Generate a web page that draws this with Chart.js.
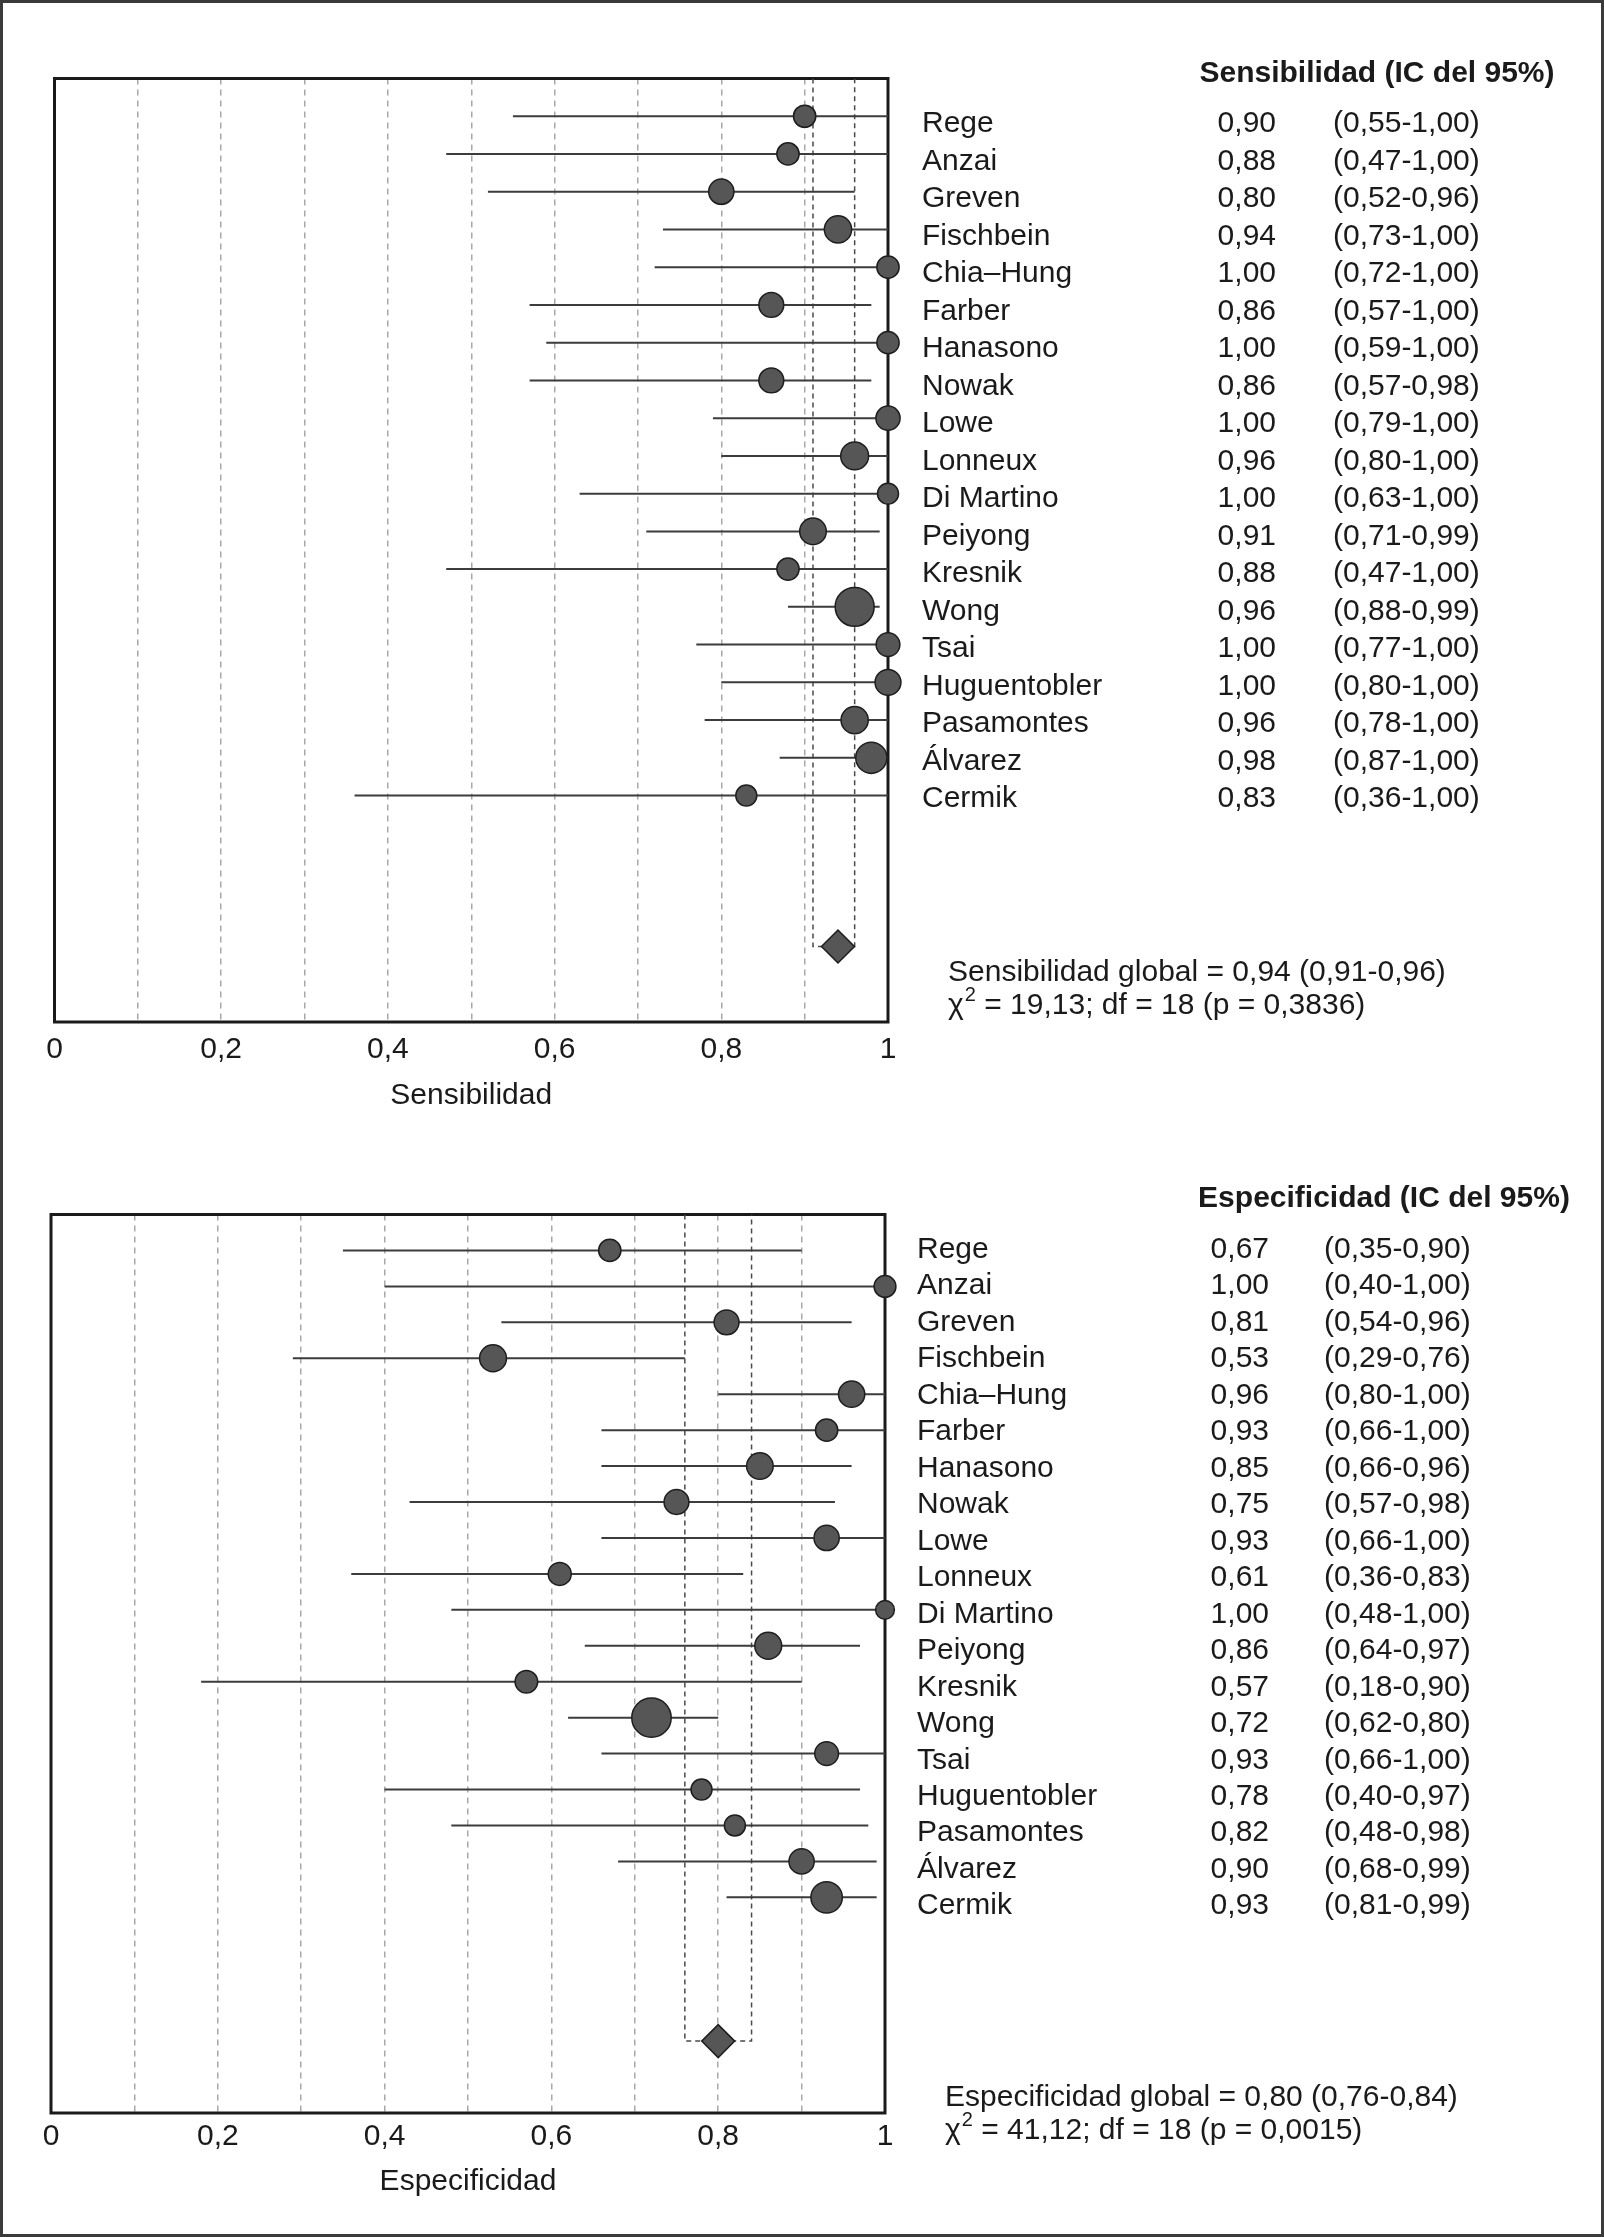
<!DOCTYPE html>
<html>
<head>
<meta charset="utf-8">
<script src="https://cdn.jsdelivr.net/npm/chart.js@4.4.0/dist/chart.umd.min.js"></script>
<style>
    html, body { margin: 0; padding: 0; background: #ffffff; }
    #frame { position: absolute; left: 0; top: 0; width: 1604px; height: 2237px; box-sizing: border-box; border: 3px solid #3a3a3a; }
    #sens_chart { position: absolute; left: 0; top: 0; }
    #spec_chart { position: absolute; left: 0; top: 1130px; }
</style>
</head>
<body>
<div id="frame"></div>
<canvas id="sens_chart" width="1604" height="1130"></canvas>
<canvas id="spec_chart" width="1604" height="1107"></canvas>
<script>
const studies = ["Rege", "Anzai", "Greven", "Fischbein", "Chia\u2013Hung", "Farber", "Hanasono", "Nowak", "Lowe", "Lonneux",
    "Di Martino", "Peiyong", "Kresnik", "Wong", "Tsai", "Huguentobler", "Pasamontes", "\u00c1lvarez", "Cermik"];

// sensitivity, as plotted
const sens_values = [0.90, 0.88, 0.80, 0.94, 1.00, 0.86, 1.00, 0.86, 1.00, 0.96, 1.00, 0.91, 0.88, 0.96, 1.00, 1.00, 0.96, 0.98, 0.83];
const sens_lower = [0.55, 0.47, 0.52, 0.73, 0.72, 0.57, 0.59, 0.57, 0.79, 0.80, 0.63, 0.71, 0.47, 0.88, 0.77, 0.80, 0.78, 0.87, 0.36];
const sens_upper = [1.00, 1.00, 0.96, 1.00, 1.00, 0.98, 1.00, 0.98, 1.00, 1.00, 1.00, 0.99, 1.00, 0.99, 1.00, 1.00, 1.00, 1.00, 1.00];
const sens_weights = [28, 28, 36, 42, 28, 35, 28, 35, 33, 44, 25, 40, 28, 86, 32, 38, 42, 55, 25];
const sens_pooled = [0.94, 0.91, 0.96];

// sensitivity, as printed in the table
const sens_value_labels = ["0,90", "0,88", "0,80", "0,94", "1,00", "0,86", "1,00", "0,86", "1,00", "0,96",
    "1,00", "0,91", "0,88", "0,96", "1,00", "1,00", "0,96", "0,98", "0,83"];
const sens_ci_labels = ["(0,55-1,00)", "(0,47-1,00)", "(0,52-0,96)", "(0,73-1,00)", "(0,72-1,00)", "(0,57-1,00)", "(0,59-1,00)",
    "(0,57-0,98)", "(0,79-1,00)", "(0,80-1,00)", "(0,63-1,00)", "(0,71-0,99)", "(0,47-1,00)", "(0,88-0,99)", "(0,77-1,00)",
    "(0,80-1,00)", "(0,78-1,00)", "(0,87-1,00)", "(0,36-1,00)"];

// specificity, as plotted
const spec_values = [0.67, 1.00, 0.81, 0.53, 0.96, 0.93, 0.85, 0.75, 0.93, 0.61, 1.00, 0.86, 0.57, 0.72, 0.93, 0.78, 0.82, 0.90, 0.93];
const spec_lower = [0.35, 0.40, 0.54, 0.29, 0.80, 0.66, 0.66, 0.43, 0.66, 0.36, 0.48, 0.64, 0.18, 0.62, 0.66, 0.40, 0.48, 0.68, 0.81];
const spec_upper = [0.90, 1.00, 0.96, 0.76, 1.00, 1.00, 0.96, 0.94, 1.00, 0.83, 1.00, 0.97, 0.90, 0.80, 1.00, 0.97, 0.98, 0.99, 0.99];
const spec_weights = [28, 27, 35, 41, 39, 28, 40, 35, 36, 30, 20, 41, 29, 88, 32, 25, 25, 36, 56];
const spec_pooled = [0.80, 0.76, 0.84];

// specificity, as printed in the table
const spec_value_labels = ["0,67", "1,00", "0,81", "0,53", "0,96", "0,93", "0,85", "0,75", "0,93", "0,61",
    "1,00", "0,86", "0,57", "0,72", "0,93", "0,78", "0,82", "0,90", "0,93"];
const spec_ci_labels = ["(0,35-0,90)", "(0,40-1,00)", "(0,54-0,96)", "(0,29-0,76)", "(0,80-1,00)", "(0,66-1,00)", "(0,66-0,96)",
    "(0,57-0,98)", "(0,66-1,00)", "(0,36-0,83)", "(0,48-1,00)", "(0,64-0,97)", "(0,18-0,90)", "(0,62-0,80)", "(0,66-1,00)",
    "(0,40-0,97)", "(0,48-0,98)", "(0,68-0,99)", "(0,81-0,99)"];

const pooled_row = 22;

const font_family = "'Liberation Sans', Arial, Helvetica, sans-serif";
const text_color = "#1a1a1a";

function tick_label(value)
{
    const tenths = Math.round(value * 10);
    if (tenths % 2 !== 0) return "";
    return String(tenths / 10).replace(".", ",");
}

function draw_chi_line(ctx, x, y, chi, rest)
{
    ctx.font = "30px " + font_family;
    ctx.fillText(chi, x, y);
    let w = ctx.measureText(chi).width;
    ctx.font = "20px " + font_family;
    ctx.fillText("2", x + w + 1, y - 13);
    w += ctx.measureText("2").width + 1;
    ctx.font = "30px " + font_family;
    ctx.fillText(rest, x + w, y);
}

function make_text_plugin(cfg)
{
    return {
        id: "forest_text",
        beforeDatasetsDraw(chart)
        {
            const a = chart.chartArea;
            const ctx = chart.ctx;
            ctx.save();
            ctx.lineWidth = 3;
            ctx.strokeStyle = "#1a1a1a";
            ctx.strokeRect(a.left, a.top, a.right - a.left, a.bottom - a.top);
            ctx.restore();
        },
        afterDraw(chart)
        {
            const ctx = chart.ctx;
            const y_scale = chart.scales.y;
            ctx.save();
            ctx.fillStyle = text_color;
            ctx.textBaseline = "alphabetic";

            ctx.font = "bold 30px " + font_family;
            ctx.textAlign = "center";
            ctx.fillText(cfg.header, cfg.header_x, cfg.header_y);

            ctx.font = "30px " + font_family;
            for (let i = 0; i < studies.length; i++)
            {
                const y = y_scale.getPixelForValue(i) + cfg.text_offset + i * cfg.text_extra;
                ctx.textAlign = "left";
                ctx.fillText(studies[i], cfg.name_x, y);
                ctx.textAlign = "right";
                ctx.fillText(cfg.value_labels[i], cfg.value_x, y);
                ctx.textAlign = "left";
                ctx.fillText(cfg.ci_labels[i], cfg.ci_x, y);
            }

            ctx.textAlign = "left";
            ctx.fillText(cfg.global_text, cfg.global_x, cfg.global_y);
            draw_chi_line(ctx, cfg.global_x, cfg.global_y + 33, "\u03c7", cfg.chi_text);
            ctx.restore();
        }
    };
}

function make_forest(canvas_id, values, lower, upper, weights, pooled, axis_title, layout, text_cfg)
{
    const points = values.map((v, i) => ({ x: v, y: i }));
    const radii = weights.map(w => 2.1 * Math.sqrt(w));
    const ci_segments = [];
    for (let i = 0; i < values.length; i++)
    {
        ci_segments.push({ x: lower[i], y: i }, { x: upper[i], y: i }, { x: null, y: null });
    }
    const pooled_ci = [
        { x: pooled[1], y: -1 }, { x: pooled[1], y: pooled_row },
        { x: pooled[2], y: pooled_row }, { x: pooled[2], y: -1 }
    ];

    return new Chart(canvas_id,
    {
        type: "scatter",
        data:
        {
            datasets:
            [
                {
                    label: "studies",
                    data: points,
                    pointStyle: "circle",
                    pointRadius: radii,
                    pointHoverRadius: radii,
                    backgroundColor: "#565656",
                    borderColor: "#1e1e1e",
                    pointBorderWidth: 1.5,
                    clip: false,
                    order: 1
                },
                {
                    label: "pooled",
                    data: [{ x: pooled[0], y: pooled_row }],
                    pointStyle: "rectRot",
                    pointRadius: 16.5,
                    pointHoverRadius: 16.5,
                    backgroundColor: "#565656",
                    borderColor: "#1e1e1e",
                    pointBorderWidth: 1.5,
                    order: 2
                },
                {
                    label: "ci",
                    data: ci_segments,
                    showLine: true,
                    spanGaps: false,
                    borderColor: "#3c3c3c",
                    borderWidth: 2,
                    pointRadius: 0,
                    pointHoverRadius: 0,
                    order: 3
                },
                {
                    label: "pooled ci",
                    data: pooled_ci,
                    showLine: true,
                    borderColor: "#4a4a4a",
                    borderWidth: 1.5,
                    borderDash: [5, 4],
                    pointRadius: 0,
                    pointHoverRadius: 0,
                    order: 4
                }
            ]
        },
        options:
        {
            responsive: false,
            animation: false,
            events: [],
            layout:
            {
                padding: layout.padding
            },
            plugins:
            {
                legend: { display: false },
                tooltip: { enabled: false }
            },
            scales:
            {
                x:
                {
                    type: "linear",
                    position: "bottom",
                    min: 0,
                    max: 1,
                    ticks:
                    {
                        stepSize: 0.1,
                        autoSkip: false,
                        maxRotation: 0,
                        padding: layout.tick_padding,
                        color: text_color,
                        font: { family: font_family, size: 30 },
                        callback: tick_label
                    },
                    grid:
                    {
                        color: "#a8a8a8",
                        lineWidth: 1.5,
                        drawTicks: false
                    },
                    border:
                    {
                        display: false,
                        dash: [6, 5]
                    },
                    title:
                    {
                        display: true,
                        text: axis_title,
                        color: text_color,
                        font: { family: font_family, size: 30 },
                        padding: { top: 0, bottom: layout.title_padding }
                    },
                    afterFit: (scale) => { scale.height = layout.axis_height; }
                },
                y:
                {
                    type: "linear",
                    display: false,
                    reverse: true,
                    min: -1,
                    max: 24
                }
            }
        },
        plugins: [make_text_plugin(text_cfg)]
    });
}

make_forest("sens_chart", sens_values, sens_lower, sens_upper, sens_weights, sens_pooled, "Sensibilidad",
    { padding: { left: 54.5, top: 78.5, right: 716, bottom: 0 }, axis_height: 108, tick_padding: 10, title_padding: 16 },
    {
        header: "Sensibilidad (IC del 95%)", header_x: 1377, header_y: 82,
        name_x: 922, value_x: 1276, ci_x: 1333,
        text_offset: 15.8, text_extra: -0.24,
        value_labels: sens_value_labels, ci_labels: sens_ci_labels,
        global_text: "Sensibilidad global = 0,94 (0,91-0,96)", global_x: 948, global_y: 981,
        chi_text: " = 19,13; df = 18 (p = 0,3836)"
    });

make_forest("spec_chart", spec_values, spec_lower, spec_upper, spec_weights, spec_pooled, "Especificidad",
    { padding: { left: 51, top: 84.5, right: 719, bottom: 0 }, axis_height: 124, tick_padding: 6, title_padding: 37 },
    {
        header: "Especificidad (IC del 95%)", header_x: 1384, header_y: 77,
        name_x: 917, value_x: 1269, ci_x: 1324,
        text_offset: 7.5, text_extra: 0.53,
        value_labels: spec_value_labels, ci_labels: spec_ci_labels,
        global_text: "Especificidad global = 0,80 (0,76-0,84)", global_x: 945, global_y: 976,
        chi_text: " = 41,12; df = 18 (p = 0,0015)"
    });
</script>
</body>
</html>
